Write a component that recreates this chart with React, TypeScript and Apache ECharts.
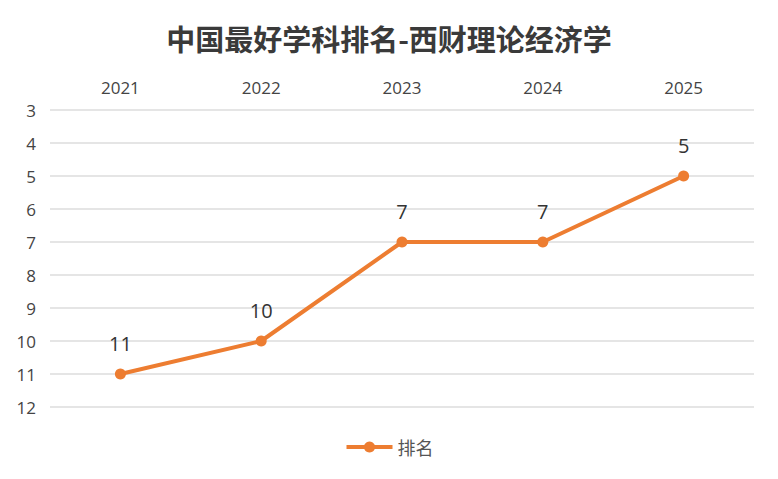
import React, { useEffect, useRef } from "react";
import * as echarts from "echarts";

const years = ["2021", "2022", "2023", "2024", "2025"];
const ranks = [11, 10, 7, 7, 5];
const seriesName = "排名";
const title = "中国最好学科排名-西财理论经济学";

export default function App() {
  const ref = useRef<HTMLDivElement>(null);
  useEffect(() => {
    const chart = echarts.init(ref.current!, null, { renderer: "svg" });
    const font = "'Noto Sans CJK SC', 'Microsoft YaHei', sans-serif";
    const numFont = "'Open Sans', 'Noto Sans CJK SC', sans-serif";
    chart.setOption({
      animation: false,
      textStyle: { fontFamily: font },
      title: {
        text: title,
        left: "center",
        top: 10,
        textStyle: { fontSize: 29, fontWeight: "bold", color: "#3a3a3a", fontFamily: font },
      },
      legend: {
        bottom: 10,
        left: "center",
        itemWidth: 46,
        itemHeight: 14,
        itemGap: 6,
        lineStyle: { width: 4 },
        textStyle: { fontSize: 18, color: "#555", fontFamily: font },
        data: [seriesName],
      },
      grid: { left: 42, right: 16, top: 102, bottom: 64 },
      xAxis: {
        type: "category",
        position: "top",
        data: years,
        boundaryGap: true,
        axisLine: { show: false },
        axisTick: { show: false },
        axisLabel: { fontSize: 17, color: "#444", margin: 14, fontFamily: numFont },
      },
      yAxis: {
        type: "value",
        inverse: true,
        min: 3,
        max: 12,
        interval: 1,
        axisLine: { show: false },
        axisTick: { show: false },
        axisLabel: { fontSize: 17, color: "#444", margin: 14, fontFamily: numFont },
        splitLine: { lineStyle: { color: "#dcdcdc", width: 1.5 } },
      },
      series: [
        {
          name: seriesName,
          type: "line",
          data: ranks,
          symbol: "circle",
          symbolSize: 11,
          itemStyle: { color: "#ED7D31" },
          lineStyle: { color: "#ED7D31", width: 4 },
          label: {
            show: true,
            position: "top",
            distance: 15,
            fontSize: 20,
            color: "#333",
            fontFamily: numFont,
          },
        },
      ],
    });
    return () => chart.dispose();
  }, []);
  return <div ref={ref} style={{ width: 762, height: 463 }} />;
}
